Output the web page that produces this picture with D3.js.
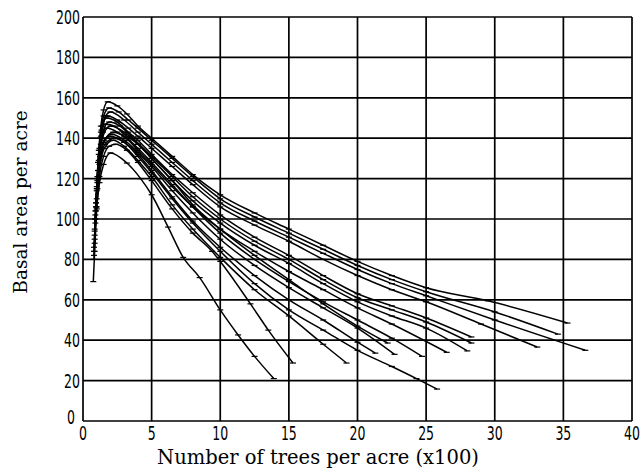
<!DOCTYPE html>
<html lang="en">
<head>
<meta charset="UTF-8">
<title>Basal area vs trees per acre</title>
<script src="https://cdn.jsdelivr.net/npm/d3@7"></script>
<style>
    body { margin: 0; background: #fff; }
    .tick-label { font-family: "DejaVu Sans", sans-serif; font-size: 19px; fill: #000; }
    .title { font-family: "DejaVu Serif", "Liberation Serif", serif; fill: #000; }
    .grid line { stroke: #000; stroke-width: 1.7; }
    .stand { fill: none; stroke: #000; stroke-width: 1.5; }
    .mark { stroke: #000; stroke-width: 1.2; }
</style>
</head>
<body>
<svg id="main" width="642" height="469"></svg>
<script>

// tick values
var xTicks = [0, 5, 10, 15, 20, 25, 30, 35, 40];
var yTicks = [0, 20, 40, 60, 80, 100, 120, 140, 160, 180, 200];

// stands: [trees per acre (x100), basal area per acre]
var standA = [[0.85,88],[1.0,116],[1.15,134],[1.3,146],[1.5,154],[1.8,158],[2.5,156],[3.2,152],[4,146],[5,140],[6.5,131],[8,122],[10,112],[12.5,103],[15,95],[17.5,87],[20,79],[22.5,72],[25,66],[29.5,59.5],[35.3,48.5]];
var standB = [[0.8,80],[0.95,106],[1.1,128],[1.3,143],[1.5,151],[1.9,155],[2.6,153],[3.3,149],[4,145],[5,139],[6.5,130],[8,121],[10,110],[12.5,101],[15,93],[17.5,85],[20,77],[22.5,70],[25,64],[30,54],[34.6,43]];
var standC = [[0.9,98],[1.05,120],[1.2,135],[1.4,146],[1.65,151],[2.0,153],[3,149],[4,143],[5,137],[6.5,128],[8,119],[10,108],[12.5,99],[15,91],[17.5,83],[20,75],[22.5,68],[25,62],[30,50],[36.6,35]];
var standD = [[0.85,92],[1.0,114],[1.15,132],[1.35,144],[1.8,151],[2.5,149],[3.3,145],[4,141],[5,135],[6.5,126],[8,117],[10,106],[12.5,97],[15,89],[17.5,80],[20,72],[22.5,65],[25,59],[29,48],[33.1,36.6]];
var standE = [[0.8,84],[0.95,108],[1.1,128],[1.3,141],[1.7,150],[2.5,148],[3.3,143],[4,139],[5,132],[6.5,122],[8,113],[10,102],[12.5,91],[15,82],[17.5,72],[20,63],[22.5,57],[25,51],[28.3,41.6]];
var standF = [[0.9,100],[1.05,121],[1.2,134],[1.45,143],[1.9,148],[2.7,146],[3.5,141],[5,131],[6.5,121],[8,111],[10,100],[12.5,89],[15,80],[17.5,70],[20,61],[22.5,55],[25,49],[28.3,38.6]];
var standG = [[0.85,95],[1.0,115],[1.15,129],[1.4,140],[2.0,146],[3,143],[4,137],[5,130],[6.5,119],[8,109],[10,98],[12.5,87],[15,78],[17.5,68],[20,59],[22.5,52],[25,46],[28,34.7]];
var standH = [[0.8,86],[0.95,106],[1.1,124],[1.3,137],[1.7,145],[2.5,143],[3.3,139],[4,134],[5,127],[6.5,116],[8,106],[10,95],[12.5,84],[15,74],[17.5,65],[20,56],[22.5,48],[26.5,34]];
var standI = [[0.9,104],[1.05,119],[1.25,131],[1.5,138],[2.0,141],[3,138],[4,131],[5,123],[6.5,110],[8,98],[10,84],[12.5,68],[15,55],[17.5,45],[20,35],[22.5,27],[24.3,21],[25.8,15.8]];
var standJ = [[0.85,90],[1.0,110],[1.2,127],[1.5,138],[2.2,143],[3,141],[4,135],[5,128],[6.5,117],[8,106],[10,93],[12.5,80],[15,69],[17.5,59],[20,50],[22.5,41],[24.7,32]];
var standK = [[0.9,102],[1.05,118],[1.25,131],[1.55,139],[2.1,142],[3,139],[4,133],[5,126],[6.5,114],[8,103],[10,90],[12.5,77],[15,66],[17.5,56],[20,46],[22.7,33]];
var standL = [[0.8,82],[0.95,104],[1.1,124],[1.3,140],[1.6,147],[2.3,146],[3,142],[4,137],[5,130],[6.5,119],[8,107],[10,95],[12.5,82],[15,70],[17.5,58],[20,47],[22.2,38.6]];
var standM = [[0.95,108],[1.1,121],[1.3,131],[1.6,137],[2.3,140],[3,138],[4,132],[5,124],[6.5,111],[8,99],[10,86],[12.5,72],[15,60],[17.5,50],[20,39],[21.3,33.6]];
var standN = [[0.9,100],[1.05,115],[1.25,127],[1.55,135],[2.2,139],[3,136],[4,129],[5,121],[6.5,107],[8,95],[10,81],[12.5,65],[15,52],[17.5,38],[19.2,28.7]];
var standO = [[0.75,69],[0.85,84],[1.0,105],[1.2,121],[1.5,131],[1.9,136],[2.4,137],[3.2,134],[4,128],[5,119],[6.5,105],[8,93],[9.4,84],[10,79],[12.2,58],[13.5,45],[15.3,28.7]];
var standP = [[0.85,94],[1.0,106],[1.2,118],[1.5,127],[2.0,132.7],[3.2,127.7],[4.2,120],[5,112],[6.2,96],[7.3,81],[8.5,71],[10,55],[11.3,42.6],[12.5,32],[13.9,21]];

var stands = [standA, standB, standC, standD, standE, standF, standG, standH,
              standI, standJ, standK, standL, standM, standN, standO, standP];

var svg = d3.select("#main"),
    margin = {top: 17, right: 10, bottom: 48, left: 83},
    width = +svg.attr("width") - margin.left - margin.right,
    height = +svg.attr("height") - margin.top - margin.bottom,
    g = svg.append("g").attr("transform", "translate(" + margin.left + "," + margin.top + ")");

var x = d3.scaleLinear().domain([0, 40]).range([0, width]);
var y = d3.scaleLinear().domain([0, 200]).range([height, 0]);

// grid (also serves as frame)
g.append("g")
    .attr("class", "grid")
    .selectAll("line")
    .data(yTicks)
    .enter().append("line")
    .attr("x1", 0)
    .attr("x2", width)
    .attr("y1", function(d) { return y(d); })
    .attr("y2", function(d) { return y(d); });

g.append("g")
    .attr("class", "grid")
    .selectAll("line")
    .data(xTicks)
    .enter().append("line")
    .attr("y1", 0)
    .attr("y2", height)
    .attr("x1", function(d) { return x(d); })
    .attr("x2", function(d) { return x(d); });

// tick labels (squeezed horizontally, like the narrow face of the original)
g.selectAll(".ylab")
    .data(yTicks)
    .enter().append("text")
    .attr("class", "tick-label")
    .attr("transform", function(d) {
        return "translate(" + (d === 0 ? -8 : -3) + "," + (y(d) + (d === 0 ? 3 : 7)) + ") scale(0.66,1)";
    })
    .attr("text-anchor", "end")
    .text(function(d) { return d; });

g.selectAll(".xlab")
    .data(xTicks)
    .enter().append("text")
    .attr("class", "tick-label")
    .attr("transform", function(d) { return "translate(" + x(d) + "," + (height + 19) + ") scale(0.66,1)"; })
    .attr("text-anchor", "middle")
    .text(function(d) { return d; });

// axis titles
svg.append("text")
    .attr("class", "title")
    .attr("x", 318)
    .attr("y", 464)
    .attr("text-anchor", "middle")
    .style("font-size", "19.5px")
    .text("Number of trees per acre (x100)");

svg.append("text")
    .attr("class", "title")
    .attr("transform", "translate(27,202) rotate(-90)")
    .attr("text-anchor", "middle")
    .style("font-size", "18.5px")
    .text("Basal area per acre");

// stand curves
var line = d3.line()
    .x(function(d) { return x(d[0]); })
    .y(function(d) { return y(d[1]); })
    .curve(d3.curveMonotoneX);

var sg = g.selectAll(".standg")
    .data(stands)
    .enter().append("g");

sg.append("path")
    .attr("class", "stand")
    .attr("d", line);

sg.selectAll(".mark")
    .data(function(d) { return d; })
    .enter().append("line")
    .attr("class", "mark")
    .attr("x1", function(d) { return x(d[0]) - 3; })
    .attr("x2", function(d) { return x(d[0]) + 3; })
    .attr("y1", function(d) { return y(d[1]); })
    .attr("y2", function(d) { return y(d[1]); });

</script>
</body>
</html>
